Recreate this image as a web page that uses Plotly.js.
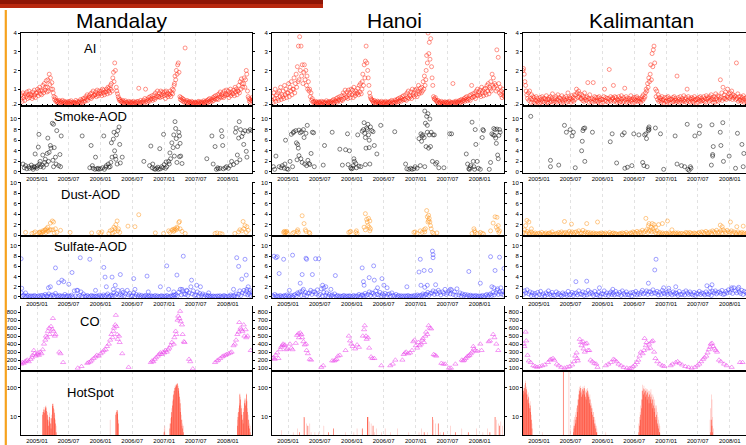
<!DOCTYPE html>
<html><head><meta charset="utf-8">
<script src="https://cdn.plot.ly/plotly-3.0.1.min.js"></script>
<style>html,body{margin:0;padding:0;background:#fff}#chart{width:746px;height:445px}</style>
</head><body><div id="chart"></div>
<script>
// ---------------- DATA ----------------
const sites = ['Mandalay','Hanoi','Kalimantan'];
const panelLabels = ['AI','Smoke-AOD','Dust-AOD','Sulfate-AOD','CO','HotSpot'];
const months = ['2004-10','2004-11','2004-12',
 '2005-01','2005-02','2005-03','2005-04','2005-05','2005-06','2005-07','2005-08','2005-09','2005-10','2005-11','2005-12',
 '2006-01','2006-02','2006-03','2006-04','2006-05','2006-06','2006-07','2006-08','2006-09','2006-10','2006-11','2006-12',
 '2007-01','2007-02','2007-03','2007-04','2007-05','2007-06','2007-07','2007-08','2007-09','2007-10','2007-11','2007-12',
 '2008-01','2008-02','2008-03','2008-04','2008-05'];
const aiDays = [1,4,8,12,16,19,23,27];
const bandDays = [3,10,17,24];

// Aerosol index, 8 readings per month
const aiMandalay = [
[0.45,0.7,0.35,0.8,0.55,0.65,0.4,0.75],[0.6,0.85,0.5,0.7,0.9,0.55,0.75,0.65],[0.7,0.5,0.85,0.6,0.95,0.7,0.55,0.8],
[0.8,1.0,0.65,0.9,1.1,0.75,0.95,0.7],[0.9,1.2,0.8,1.3,0.95,1.1,1.45,0.85],[1.1,1.5,0.9,1.8,1.25,1.6,1.0,1.35],[1.0,0.8,0.6,0.45,0.55,0.35,0.4,0.3],
[0.35,0.25,0.4,0.3,0.22,0.35,0.28,0.4],[0.3,0.22,0.35,0.25,0.3,0.2,0.32,0.26],[0.25,0.35,0.2,0.3,0.38,0.22,0.3,0.25],[0.3,0.22,0.28,0.4,0.25,0.33,0.2,0.3],
[0.35,0.25,0.45,0.3,0.4,0.28,0.5,0.35],[0.5,0.35,0.6,0.45,0.7,0.4,0.55,0.65],[0.55,0.75,0.5,0.8,0.6,0.9,0.65,0.7],[0.7,0.85,0.6,0.95,0.75,0.65,0.9,0.8],
[0.75,0.9,0.65,1.0,0.8,0.95,0.7,0.85],[0.85,1.0,0.75,1.1,0.9,1.05,0.8,1.2],[1.0,1.3,0.9,1.6,1.9,1.4,2.4,2.0],[1.1,0.9,0.75,0.6,0.5,0.4,0.45,0.35],
[0.35,0.28,0.4,0.25,0.32,0.22,0.38,0.3],[0.25,0.3,0.2,0.35,0.22,0.28,0.32,0.24],[0.3,0.22,0.35,0.25,0.2,0.3,0.27,0.33],[0.25,0.35,1.05,0.3,0.22,0.4,0.28,0.32],
[0.3,0.4,0.25,0.5,1.0,0.35,0.45,0.3],[0.4,0.55,0.35,0.6,0.45,0.5,0.65,0.4],[0.5,0.7,0.45,0.8,0.55,0.65,0.9,0.6],[0.6,0.8,0.55,0.9,0.7,0.6,0.85,0.75],
[0.65,0.85,0.5,0.9,0.7,0.8,0.6,0.75],[0.7,0.9,0.6,0.8,1.0,0.75,0.95,1.2],[1.3,1.7,1.5,2.0,1.8,2.3,2.4,1.9],[0.6,0.45,0.55,0.4,0.5,0.35,0.45,0.3],
[3.2,0.35,0.28,0.4,0.3,0.25,0.35,0.3],[0.28,0.22,0.35,0.3,0.25,0.2,0.3,0.26],[0.3,0.25,0.2,0.32,0.26,0.35,0.22,0.3],[0.25,0.32,0.22,0.3,0.38,0.26,0.3,0.35],
[0.3,0.4,0.28,0.45,0.35,0.5,0.32,0.42],[0.45,0.35,0.55,0.4,0.6,0.5,0.65,0.45],[0.5,0.7,0.45,0.75,0.6,0.85,0.55,0.7],[0.6,0.8,0.55,0.9,0.65,0.75,0.95,0.7],
[0.7,0.9,0.55,0.8,1.0,0.65,0.85,0.75],[0.75,0.95,0.65,1.1,0.85,1.0,0.7,0.9],[0.9,1.2,0.8,1.4,1.0,1.55,1.3,1.1],[1.3,1.6,1.1,1.5,2.0,1.8,0.9,0.6],
[0.5,0.35,0.45,0.3,0.4,0.55,0.35,0.45]];
const aiHanoi = [
[0.4,0.6,0.3,0.8,0.5,1.0,0.35,0.7],[0.5,0.8,0.4,0.9,0.6,1.1,0.45,0.7],[0.6,0.9,0.5,1.2,0.7,1.0,0.55,0.8],
[0.8,1.3,0.6,1.1,0.9,1.4,0.7,1.0],[1.0,1.6,0.8,1.3,1.8,1.1,2.2,1.4],[3.3,1.5,3.8,2.0,3.3,1.7,2.3,1.3],[1.9,2.3,1.5,2.0,1.2,1.7,1.0,1.4],
[0.9,1.0,0.6,0.8,0.4,0.5,0.3,0.35],[0.3,0.22,0.35,0.25,0.3,0.2,0.28,0.33],[0.25,0.3,0.22,0.35,0.2,0.28,0.32,0.24],[0.3,0.25,0.38,0.22,0.3,0.26,0.35,0.28],
[0.28,0.35,0.25,0.4,0.3,0.45,0.27,0.38],[0.35,0.5,0.3,0.55,0.4,0.45,0.6,0.35],[0.45,0.65,0.4,0.8,0.5,0.7,0.95,0.55],[0.6,0.85,0.5,0.95,0.7,0.8,0.55,1.0],
[0.7,0.95,0.55,1.1,0.8,0.65,0.9,0.75],[0.8,1.05,0.7,1.2,0.85,1.3,0.75,1.0],[1.4,1.8,1.2,2.3,1.6,2.5,3.3,2.4],[2.0,1.6,1.2,0.8,0.6,0.5,0.45,0.4],
[0.35,0.28,0.4,0.25,0.32,0.22,0.3,0.36],[0.26,0.32,0.2,0.3,0.24,0.35,0.22,0.28],[0.3,0.22,0.28,0.35,0.2,0.3,0.25,0.32],[0.25,0.3,0.35,0.22,0.4,0.28,0.33,0.25],
[0.3,0.42,0.28,0.38,0.45,0.32,0.5,0.35],[0.4,0.55,0.35,0.5,0.6,0.42,0.65,0.45],[0.45,0.7,0.4,0.8,0.55,0.9,0.5,0.65],[0.6,0.85,0.5,1.0,0.7,0.8,0.6,0.95],
[0.7,1.0,0.6,0.9,1.2,0.75,0.85,1.05],[0.8,1.1,0.9,1.4,1.0,1.7,1.2,1.5],[2.0,2.8,2.4,4.0,2.9,3.5,2.6,3.7],[2.2,1.6,1.2,0.6,0.5,0.45,0.55,0.4],
[0.35,0.3,0.4,0.25,0.32,0.28,0.22,0.35],[0.25,0.3,0.2,0.28,0.33,0.22,0.3,0.26],[0.3,0.22,0.27,0.35,0.2,0.28,0.24,0.3],[1.3,0.25,0.32,0.22,0.3,0.36,0.26,0.3],
[0.3,0.38,0.25,0.4,0.3,0.45,0.33,0.4],[0.4,0.5,0.35,0.55,0.45,0.6,0.38,0.5],[0.45,0.65,0.4,0.7,1.2,0.55,0.75,0.6],[0.6,0.8,0.5,0.9,0.7,1.0,0.65,0.85],
[0.7,0.95,0.6,1.1,0.8,0.9,0.65,1.0],[0.8,1.05,0.7,1.2,0.9,1.3,0.75,1.1],[1.0,1.4,0.9,1.8,1.2,1.6,1.1,1.3],[1.2,0.9,3.1,1.0,2.7,1.3,0.8,1.1],
[0.7,0.9,0.55,1.0,0.65,0.8,0.6,0.75]];
const aiKalimantan = [
[2.0,2.1,1.8,1.4,1.2,0.9,0.7,0.5],[0.8,0.4,0.9,0.5,0.3,0.7,0.45,0.6],[0.3,0.55,0.25,0.4,0.6,0.35,0.5,0.3],
[0.4,0.25,0.55,0.3,0.45,0.6,0.35,0.5],[0.3,0.5,0.4,0.65,0.3,0.45,0.25,0.55],[0.45,0.3,0.6,0.35,0.5,0.75,0.4,0.3],[0.5,0.35,0.6,0.3,0.45,0.7,0.4,0.55],
[0.35,0.5,0.25,0.65,0.4,0.3,0.55,0.45],[0.4,0.6,0.3,0.5,0.8,0.35,0.45,0.55],[0.5,0.3,0.65,0.4,0.55,0.35,0.7,0.45],[0.7,1.0,0.8,0.55,0.9,0.6,0.75,0.5],
[0.5,0.7,0.4,0.6,0.35,0.8,0.45,0.55],[0.4,0.6,1.35,0.5,0.3,0.7,0.45,0.35],[0.5,0.3,1.35,0.45,0.6,0.35,0.55,0.4],[0.35,0.55,0.3,0.6,0.4,0.5,0.25,0.45],
[0.45,0.3,0.6,1.0,0.4,0.55,0.35,0.5],[0.3,0.5,2.05,0.4,0.6,0.35,0.45,0.55],[0.5,1.2,0.35,0.6,0.4,0.55,0.3,0.45],[0.4,0.6,0.3,0.5,0.35,0.65,0.45,0.3],
[0.55,0.35,1.05,0.45,0.6,0.3,0.5,0.4],[0.3,0.5,0.4,0.65,0.35,0.45,0.25,0.55],[0.45,0.3,0.55,0.4,0.6,0.35,0.5,0.4],[0.35,0.5,0.3,0.45,0.6,0.4,0.7,0.5],
[0.6,0.8,1.0,0.9,1.3,1.1,1.6,1.4],[1.8,2.3,1.5,2.9,2.2,3.1,3.3,2.4],[1.0,0.6,0.9,0.45,0.7,0.35,0.55,0.4],[0.5,0.3,0.6,0.4,0.45,0.25,0.55,0.35],
[0.35,0.55,0.3,0.6,0.4,0.5,0.25,0.45],[0.45,0.3,0.55,0.35,0.6,0.4,0.5,0.3],[0.4,1.7,0.35,0.55,0.45,0.3,0.6,0.4],[0.3,0.5,0.4,0.65,0.35,0.45,0.55,0.3],
[1.0,0.4,0.6,0.35,0.5,0.3,0.45,0.55],[0.35,0.5,0.3,0.6,0.4,0.45,0.25,0.5],[0.45,0.3,0.55,0.4,0.6,0.35,0.5,0.4],[0.4,0.6,0.35,0.5,0.3,0.65,0.45,0.55],
[0.5,0.35,0.6,0.4,0.7,0.45,0.55,0.3],[0.45,0.6,0.3,0.75,0.5,0.4,0.65,0.35],[0.6,0.45,1.5,0.55,0.8,0.4,1.1,0.5],[0.7,0.5,0.85,0.45,0.6,1.0,0.55,0.75],
[0.5,0.8,0.6,0.9,0.45,0.7,0.55,0.65],[0.6,0.45,2.4,0.5,0.75,0.35,0.6,0.4],[0.45,0.6,0.35,0.55,0.4,0.65,0.3,0.5],[0.4,0.55,0.3,0.5,0.45,0.35,0.6,0.4],
[0.35,0.5,0.4,0.45,0.3,0.55,0.4,0.5]];

// Smoke AOD: [decimal year, value]
const smokeMandalay = [[2004.78,1.5],[2004.80,0.8],[2004.82,1.2],[2004.84,0.6],[2004.87,1.0],[2004.88,0.7],[2004.91,1.3],[2004.92,0.8],[2004.94,0.5],[2004.95,1.0],[2004.96,0.9],[2004.97,3.4],[2004.99,1.0],[2005.00,0.7],[2005.01,1.2],[2005.02,4.7],[2005.03,7.1],[2005.04,1.5],[2005.05,2.0],[2005.06,1.0],[2005.08,1.3],[2005.09,3.2],[2005.10,0.9],[2005.12,1.8],[2005.13,2.4],[2005.15,1.4],[2005.16,3.5],[2005.17,6.4],[2005.18,2.0],[2005.19,3.7],[2005.21,5.0],[2005.22,4.5],[2005.24,9.2],[2005.25,2.2],[2005.26,9.0],[2005.26,1.0],[2005.27,4.6],[2005.29,2.8],[2005.30,1.5],[2005.31,7.8],[2005.34,1.2],[2005.36,3.3],[2005.37,1.0],[2005.38,6.8],
[2005.71,6.8],[2005.83,0.8],[2005.85,5.0],[2005.87,1.2],[2005.88,0.7],[2005.91,0.5],[2005.92,2.8],[2005.94,0.6],[2005.96,0.7],[2005.97,0.5],[2006.00,0.6],[2006.03,0.8],[2006.05,6.8],[2006.06,0.5],[2006.08,0.9],[2006.09,1.2],[2006.12,1.5],[2006.13,0.9],[2006.15,1.0],[2006.16,1.8],[2006.17,5.5],[2006.18,2.8],[2006.20,6.2],[2006.21,7.5],[2006.22,4.0],[2006.23,3.0],[2006.24,2.4],[2006.25,7.0],[2006.26,1.5],[2006.27,7.8],[2006.29,8.5],[2006.30,5.2],[2006.31,1.7],[2006.34,2.8],
[2006.68,2.0],[2006.79,4.9],[2006.77,1.2],[2006.81,0.8],[2006.82,1.5],[2006.84,0.6],[2006.86,0.5],[2006.88,0.7],[2006.90,0.9],[2006.91,0.5],[2006.93,4.4],[2006.94,0.6],[2006.96,1.0],[2006.98,0.8],[2006.99,7.1],[2007.00,1.4],[2007.02,0.7],[2007.03,1.9],[2007.04,1.0],[2007.07,2.0],[2007.08,1.5],[2007.09,3.6],[2007.10,2.5],[2007.12,5.5],[2007.14,4.6],[2007.15,7.0],[2007.16,3.0],[2007.17,9.5],[2007.18,8.2],[2007.19,6.3],[2007.20,1.8],[2007.21,4.8],[2007.23,7.5],[2007.24,6.8],[2007.24,2.9],[2007.25,5.4],[2007.26,3.0],[2007.28,1.6],
[2007.67,2.5],[2007.75,6.8],[2007.77,1.5],[2007.80,4.8],[2007.82,0.5],[2007.84,0.8],[2007.85,0.6],[2007.88,0.7],[2007.90,7.8],[2007.91,6.7],[2007.92,5.0],[2007.93,0.6],[2007.96,0.8],[2007.98,1.0],[2008.01,0.7],[2008.04,1.2],[2008.06,2.0],[2008.09,1.4],[2008.12,7.5],[2008.13,8.3],[2008.14,1.8],[2008.15,3.2],[2008.17,6.4],[2008.18,9.5],[2008.19,2.3],[2008.20,8.0],[2008.22,6.7],[2008.24,7.3],[2008.25,5.2],[2008.27,7.8],[2008.29,3.9],[2008.30,2.8],[2008.32,7.7],[2008.35,8.0],[2008.38,7.8]];
const smokeHanoi = [[2004.77,1.0],[2004.79,0.5],[2004.81,3.0],[2004.86,1.0],[2004.89,0.8],[2004.91,1.2],[2004.94,0.7],[2004.95,1.5],[2004.96,6.0],[2004.98,0.6],[2005.00,0.5],[2005.03,2.0],[2005.05,7.1],[2005.07,1.0],[2005.08,7.4],[2005.09,7.6],[2005.12,7.8],[2005.13,5.5],[2005.14,2.3],[2005.15,5.2],[2005.16,4.5],[2005.17,7.9],[2005.17,3.1],[2005.19,7.4],[2005.20,2.5],[2005.21,7.6],[2005.22,1.8],[2005.24,8.0],[2005.25,6.5],[2005.26,1.5],[2005.28,7.3],[2005.29,1.2],[2005.30,8.8],[2005.31,2.2],[2005.33,1.6],[2005.34,1.4],[2005.36,3.5],[2005.38,7.5],[2005.40,7.4],[2005.41,1.0],
[2005.55,1.3],[2005.57,5.0],[2005.69,7.5],[2005.81,4.3],[2005.85,1.3],[2005.90,4.2],[2005.93,7.2],[2005.94,1.4],[2005.96,4.0],[2005.98,0.8],[2005.99,0.6],[2006.01,0.7],[2006.02,1.2],[2006.03,2.5],[2006.04,2.0],[2006.06,1.6],[2006.07,0.8],[2006.09,7.0],[2006.11,1.1],[2006.14,1.0],[2006.16,7.7],[2006.18,8.0],[2006.19,9.3],[2006.20,7.3],[2006.21,6.5],[2006.21,1.4],[2006.22,4.5],[2006.23,8.3],[2006.24,8.0],[2006.25,9.0],[2006.26,7.0],[2006.27,6.0],[2006.27,4.6],[2006.28,1.5],[2006.29,8.5],[2006.31,7.8],[2006.33,7.6],[2006.35,5.0],[2006.39,3.4],[2006.45,8.8],
[2006.67,7.6],[2006.84,1.5],[2006.86,0.6],[2006.89,0.5],[2006.92,0.7],[2006.94,0.5],[2006.97,0.6],[2006.99,1.0],[2007.02,0.7],[2007.05,6.3],[2007.07,1.2],[2007.08,7.2],[2007.09,5.8],[2007.10,6.8],[2007.11,7.0],[2007.13,6.5],[2007.14,1.0],[2007.14,11.5],[2007.15,9.2],[2007.16,4.8],[2007.17,10.5],[2007.18,8.8],[2007.18,7.5],[2007.19,11.0],[2007.20,4.5],[2007.21,7.0],[2007.22,10.0],[2007.23,4.8],[2007.24,7.5],[2007.26,2.0],[2007.27,7.0],[2007.29,7.0],[2007.31,1.5],[2007.33,1.8],[2007.36,0.8],[2007.44,0.8],[2007.53,7.2],[2007.56,7.2],
[2007.79,3.4],[2007.81,1.5],[2007.83,0.6],[2007.84,0.5],[2007.85,0.8],[2007.86,1.2],[2007.88,9.4],[2007.90,2.0],[2007.91,1.0],[2007.92,0.5],[2007.93,8.0],[2007.94,5.2],[2007.96,2.0],[2007.98,0.7],[2008.01,0.5],[2008.04,6.5],[2008.05,8.0],[2008.06,7.8],[2008.15,0.5],[2008.17,1.8],[2008.19,7.2],[2008.21,7.0],[2008.22,8.2],[2008.23,6.9],[2008.24,8.0],[2008.25,6.4],[2008.26,5.4],[2008.27,8.1],[2008.28,3.2],[2008.29,2.5],[2008.30,6.9],[2008.31,8.0],[2008.32,7.5]];
const smokeKalimantan = [[2004.87,10.5],[2005.18,2.2],[2005.18,1.0],[2005.31,1.3],[2005.40,8.8],[2005.43,7.5],[2005.49,8.0],[2005.52,6.8],[2005.54,7.5],[2005.57,0.8],[2005.67,4.0],[2005.68,5.8],[2005.69,7.8],[2005.70,8.2],[2005.72,8.3],[2005.72,2.0],[2005.84,7.5],[2006.12,5.7],[2006.15,7.2],[2006.22,1.7],[2006.31,7.0],[2006.34,7.4],[2006.35,0.7],[2006.39,0.9],[2006.46,1.2],[2006.49,7.2],[2006.57,7.0],[2006.63,1.8],[2006.65,1.2],[2006.66,7.0],[2006.68,7.2],[2006.69,6.3],[2006.70,1.0],[2006.72,7.8],[2006.72,8.2],[2006.73,8.5],[2006.73,8.0],[2006.83,8.3],[2006.91,7.2],[2006.96,0.5],[2007.14,6.8],[2007.17,1.5],[2007.24,1.2],[2007.29,1.0],[2007.33,9.0],[2007.34,0.5],[2007.36,0.3],[2007.38,1.0],[2007.39,0.7],[2007.45,6.8],[2007.52,7.3],[2007.53,8.7],[2007.71,1.3],[2007.72,8.9],[2007.73,3.0],[2007.73,3.3],[2007.74,4.8],[2007.85,7.5],[2007.86,5.0],[2007.89,9.3],[2007.90,2.0],[2007.99,3.0],[2008.09,0.7],[2008.12,7.3],[2008.19,5.2],[2008.21,1.0],[2008.22,3.5]];

// Dust AOD
const dustMandalay = [[2004.71,0.3],[2004.82,0.5],[2004.92,0.3],[2004.95,0.4],[2004.97,0.6],[2005.03,0.4],[2005.04,0.5],[2005.05,0.6],[2005.06,0.3],[2005.08,0.5],[2005.09,0.8],[2005.10,0.6],[2005.12,0.9],[2005.13,1.0],[2005.14,0.5],[2005.15,1.2],[2005.16,0.8],[2005.17,1.5],[2005.18,0.7],[2005.20,1.0],[2005.21,2.3],[2005.22,1.0],[2005.24,2.7],[2005.25,1.0],[2005.26,2.5],[2005.27,0.4],[2005.29,1.2],[2005.31,0.5],[2005.37,0.9],[2005.52,0.5],[2005.86,0.4],[2005.97,0.5],[2006.00,0.3],[2006.02,0.6],[2006.13,0.3],[2006.15,0.8],[2006.18,1.0],[2006.19,0.4],[2006.21,1.5],[2006.22,0.6],[2006.23,1.2],[2006.24,2.0],[2006.26,2.7],[2006.27,0.8],[2006.28,1.2],[2006.30,0.5],[2006.43,1.7],[2006.54,1.6],[2006.60,3.9],[2006.86,0.4],[2006.99,0.3],[2007.07,0.8],[2007.09,0.5],[2007.12,0.9],[2007.14,1.1],[2007.15,0.7],[2007.16,0.9],[2007.17,1.2],[2007.19,1.0],[2007.20,1.5],[2007.21,1.3],[2007.23,2.4],[2007.24,2.6],[2007.25,1.2],[2007.28,0.7],[2007.33,0.3],[2007.80,0.3],[2007.83,0.4],[2007.88,0.3],[2007.91,0.2],[2008.11,0.3],[2008.17,0.6],[2008.19,1.0],[2008.22,0.8],[2008.24,2.6],[2008.25,1.2],[2008.27,1.8],[2008.29,0.5],[2008.30,1.6],[2008.32,0.9]];
const dustHanoi = [[2004.93,0.5],[2004.94,0.7],[2004.95,0.4],[2004.96,0.6],[2004.97,0.5],[2004.98,0.7],[2004.99,0.3],[2005.07,0.3],[2005.09,0.5],[2005.14,0.7],[2005.15,1.0],[2005.16,0.5],[2005.22,3.7],[2005.25,2.2],[2005.27,1.0],[2005.28,0.7],[2005.33,0.5],[2005.34,0.3],[2005.95,0.5],[2005.97,0.6],[2005.98,0.7],[2006.06,0.5],[2006.07,0.8],[2006.08,0.3],[2006.19,1.5],[2006.21,1.0],[2006.21,4.1],[2006.23,3.0],[2006.24,2.5],[2006.25,1.8],[2006.26,3.2],[2006.27,1.5],[2006.28,0.8],[2006.28,2.7],[2006.29,1.2],[2006.97,0.5],[2006.99,0.6],[2007.02,0.3],[2007.07,0.8],[2007.10,0.5],[2007.13,1.0],[2007.14,0.6],[2007.15,1.2],[2007.17,4.7],[2007.18,3.5],[2007.19,2.5],[2007.20,3.8],[2007.20,2.8],[2007.21,3.2],[2007.22,2.5],[2007.23,1.8],[2007.24,1.2],[2007.26,0.5],[2007.28,0.3],[2007.33,0.4],[2007.88,0.3],[2007.91,1.2],[2007.92,0.8],[2007.93,0.5],[2007.96,0.3],[2008.01,0.5],[2008.04,0.3],[2008.06,0.2],[2008.17,0.8],[2008.21,2.3],[2008.24,3.5],[2008.26,1.5],[2008.27,3.4],[2008.28,1.0],[2008.29,1.8],[2008.30,0.5],[2008.31,0.8]];
const dustKalimantanBand = [
[0.5,1.0,0.3,0.7],[0.4,0.2,0.6,0.3],[0.2,0.4,0.1,0.3],
[0.3,0.1,0.5,0.2],[0.2,0.4,0.1,0.3],[0.4,0.2,0.6,0.1],[0.1,0.3,0.2,0.5],[0.3,0.6,0.2,0.4],[0.5,0.2,0.4,0.7],[0.3,0.6,0.2,0.5],[0.6,0.3,0.8,0.4],[0.4,0.9,0.3,0.6],[0.3,0.5,0.1,0.4],[0.2,0.4,0.1,0.3],[0.1,0.3,0.2,0.4],
[0.3,0.1,0.4,0.2],[0.2,0.5,0.1,0.3],[0.4,0.2,0.3,0.1],[0.1,0.3,0.2,0.4],[0.3,0.1,0.5,0.2],[0.2,0.4,0.3,0.6],[0.5,0.3,0.7,0.4],[0.6,0.4,0.9,0.5],[0.7,1.0,0.5,0.8],[0.9,0.6,1.2,0.7],[0.4,0.8,0.3,0.5],[0.2,0.4,0.1,0.3],
[0.3,0.1,0.4,0.2],[0.1,0.3,0.2,0.4],[0.2,0.4,0.1,0.3],[0.3,0.1,0.2,0.5],[0.4,0.2,0.5,0.3],[0.2,0.4,0.3,0.1],[0.3,0.5,0.2,0.6],[0.5,0.3,0.7,0.4],[0.4,0.6,0.3,0.8],[0.6,0.4,0.9,0.5],[0.5,0.8,0.4,1.0],[0.7,0.4,0.9,0.6],
[0.5,0.8,0.3,0.6],[0.4,0.2,0.6,0.3],[0.3,0.5,0.2,0.4],[0.2,0.4,0.3,0.5],[0.3,0.2,0.4,0.3]];
const dustKalimantan = [[2004.79,1.8],[2004.81,2.8],[2004.84,2.5],[2004.88,1.2],[2005.40,2.6],[2005.51,2.1],[2005.75,2.2],[2005.92,2.5],[2006.68,3.2],[2006.72,1.8],[2006.73,2.2],[2006.76,1.5],[2006.78,2.2],[2006.81,2.0],[2006.83,1.5],[2006.88,2.0],[2006.94,2.2],[2007.02,2.7],[2007.09,1.0],[2007.85,1.9],[2007.88,1.6],[2008.01,2.5],[2008.11,1.6],[2008.21,1.7]];

// Sulfate AOD: dense low band (4 per month) + higher readings
const sulfMandalayBand = [
[0.8,0.2,0.4,0.1],[0.1,0.3,0.05,0.2],[0.2,0.1,0.3,0.15],
[0.1,0.25,0.05,0.3],[0.3,0.1,0.5,0.2],[0.2,0.6,0.1,0.35],[0.4,0.15,0.7,0.25],[0.1,0.3,0.05,0.2],[0.15,0.5,0.1,0.25],[0.2,0.1,0.35,0.05],[1.2,0.2,1.3,0.1],[0.3,1.0,0.15,0.6],[0.2,0.1,0.3,0.05],[0.15,0.3,0.1,0.2],[0.1,0.2,0.05,0.35],
[0.2,0.1,0.4,0.15],[0.3,0.6,0.1,0.25],[0.4,0.2,0.8,0.3],[0.6,1.3,0.3,0.5],[0.3,0.9,0.2,0.6],[1.3,0.4,0.7,0.2],[0.25,0.8,0.1,0.5],[0.15,0.4,0.05,0.3],[0.1,0.2,0.3,0.05],[0.2,0.1,0.25,0.15],[0.1,0.3,0.05,0.2],[0.05,0.15,0.25,0.1],
[0.2,0.1,0.3,0.05],[0.1,0.25,0.15,0.4],[0.3,0.5,0.2,0.9],[1.5,0.4,1.2,0.6],[0.5,1.3,0.3,0.8],[2.0,0.6,1.2,0.3],[0.4,1.0,0.2,0.7],[0.3,0.6,0.1,0.4],[0.15,0.3,0.05,0.2],[0.1,0.2,0.05,0.15],[0.2,0.1,0.25,0.05],[0.1,0.3,0.15,0.05],
[0.2,0.1,0.4,0.15],[0.3,0.2,0.6,0.1],[0.5,1.2,0.3,0.8],[1.3,0.6,1.1,0.4],[0.7,0.3,1.0,0.5]];
const sulfHanoiBand = [
[0.3,0.1,0.5,0.2],[0.2,0.05,0.3,0.1],[0.1,0.3,0.15,0.4],
[0.2,0.1,0.35,0.05],[0.3,0.5,0.15,0.8],[0.6,1.0,0.3,1.2],[0.4,0.9,0.2,0.7],[0.8,1.3,0.5,1.0],[1.0,0.6,1.4,0.3],[0.5,1.6,0.2,0.9],[0.3,0.8,0.1,0.5],[0.2,0.4,0.1,0.6],[0.15,0.3,0.05,0.2],[0.1,0.2,0.3,0.05],[0.2,0.1,0.25,0.15],
[0.1,0.3,0.05,0.2],[0.2,0.5,0.1,0.35],[0.4,0.2,0.7,0.3],[0.5,1.0,0.3,0.8],[0.7,0.3,1.2,0.5],[0.4,0.9,0.2,0.6],[0.3,0.7,0.1,0.5],[0.6,0.2,0.8,0.3],[0.2,0.5,0.1,0.3],[0.1,0.25,0.05,0.2],[0.2,0.1,0.3,0.15],[0.1,0.2,0.05,0.3],
[0.2,0.4,0.1,0.3],[0.3,0.6,0.2,0.5],[0.5,0.9,0.3,0.7],[0.8,1.2,0.5,1.0],[0.6,1.3,0.9,0.4],[1.0,0.7,1.5,0.5],[0.8,1.2,0.6,1.4],[0.5,1.0,0.3,1.6],[0.4,0.8,0.2,0.6],[0.3,0.5,0.1,0.4],[0.2,0.35,0.1,0.25],[0.15,0.3,0.05,0.2],
[0.2,0.1,0.3,0.05],[0.3,0.5,0.15,0.4],[0.6,0.3,0.9,0.4],[0.8,1.3,0.5,1.0],[0.6,1.1,0.4,0.9]];
const sulfKalimantanBand = [
[0.5,1.2,0.8,1.4],[0.6,1.0,0.3,0.8],[0.4,0.7,0.2,0.9],
[0.5,1.1,0.3,0.6],[0.2,0.8,0.5,1.2],[0.6,0.3,0.9,0.4],[0.3,1.0,0.5,0.7],[0.4,0.2,0.8,0.5],[0.6,0.3,1.1,0.4],[0.5,0.9,0.3,0.7],[0.8,0.4,1.2,0.6],[0.5,1.0,0.3,0.8],[0.4,1.3,0.6,0.9],[0.7,0.3,1.1,0.5],[0.4,0.9,0.2,0.6],
[0.6,1.2,0.4,0.8],[0.3,0.7,1.0,0.5],[0.8,0.4,1.1,0.6],[0.5,0.9,0.3,1.2],[0.7,0.4,1.0,0.5],[0.4,0.8,0.2,0.9],[0.6,1.1,0.4,0.7],[0.5,0.9,1.3,0.6],[0.8,1.2,0.5,1.0],[1.0,0.6,1.4,0.8],[0.7,1.1,0.4,0.9],[0.5,1.3,0.8,0.6],
[0.9,0.5,1.2,0.7],[0.4,1.0,0.6,0.8],[0.7,0.3,1.1,0.5],[0.5,0.9,0.4,1.2],[0.8,0.5,1.0,0.6],[0.4,0.9,0.3,0.7],[0.6,1.1,0.5,0.8],[0.7,0.4,1.0,0.6],[0.5,0.9,0.3,1.1],[0.8,1.2,0.6,0.9],[1.0,0.7,1.3,0.5],[0.6,1.1,0.8,1.4],
[0.9,1.5,0.7,1.8],[1.2,0.8,1.6,1.0],[0.7,1.3,0.5,1.1],[0.9,0.6,1.2,0.8],[0.5,1.0,0.7,0.9]];
const sulfMandalay = [[2004.75,7.5],[2004.76,1.7],[2004.82,0.8],[2005.18,1.8],[2005.21,2.0],[2005.29,5.7],[2005.34,2.8],[2005.39,3.3],[2005.42,3.0],[2005.50,2.5],[2005.55,4.8],[2005.64,1.3],[2005.68,7.7],[2005.83,7.4],[2005.92,1.3],[2006.05,5.8],[2006.07,3.9],[2006.09,2.0],[2006.18,3.9],[2006.20,1.5],[2006.23,2.3],[2006.31,4.4],[2006.34,1.3],[2006.52,3.6],[2006.54,1.5],[2006.73,4.1],[2006.75,1.0],[2006.94,2.0],[2007.04,6.1],[2007.07,1.5],[2007.15,1.0],[2007.20,4.3],[2007.28,1.5],[2007.30,8.0],[2007.36,1.2],[2007.43,3.3],[2007.51,2.3],[2007.57,2.0],[2007.70,0.8],[2008.09,1.5],[2008.14,7.7],[2008.17,6.0],[2008.22,3.5],[2008.27,7.4],[2008.29,4.3],[2008.30,1.5],[2008.32,2.0],[2008.35,1.3]];
const sulfHanoi = [[2004.78,8.0],[2004.81,7.7],[2004.83,7.9],[2004.86,4.6],[2004.93,7.4],[2005.02,1.3],[2005.07,8.2],[2005.19,2.7],[2005.22,4.4],[2005.24,1.5],[2005.28,7.6],[2005.29,7.4],[2005.38,4.4],[2005.43,7.5],[2005.48,7.5],[2005.54,2.3],[2005.56,1.8],[2005.59,2.0],[2005.67,1.5],[2005.74,4.2],[2006.16,5.7],[2006.18,3.0],[2006.19,2.3],[2006.27,3.8],[2006.34,6.1],[2006.35,3.3],[2006.40,1.8],[2006.47,3.6],[2006.50,2.3],[2006.55,1.8],[2006.86,2.0],[2007.05,4.9],[2007.07,7.4],[2007.08,2.3],[2007.13,5.2],[2007.14,1.9],[2007.18,2.3],[2007.23,5.2],[2007.26,9.0],[2007.27,8.3],[2007.27,7.7],[2007.31,2.4],[2007.54,1.5],[2007.83,5.0],[2008.01,2.7],[2008.17,7.9],[2008.19,2.0],[2008.22,1.8],[2008.24,5.2],[2008.28,1.6],[2008.31,7.8],[2008.33,1.8],[2008.38,5.6]];
const sulfKalimantan = [[2005.58,3.0],[2005.75,3.1],[2005.95,1.8],[2006.16,1.5],[2006.72,2.7],[2006.82,5.3],[2006.84,7.4],[2006.96,1.8],[2007.04,1.7],[2007.15,2.0],[2007.64,2.2],[2007.69,1.8],[2007.72,2.4],[2008.03,1.8],[2008.14,1.9]];

// CO: [decimal year, ppbv]
const coMandalay = [[2004.75,150],[2004.77,170],[2004.79,160],[2004.81,180],[2004.83,190],[2004.85,200],[2004.87,180],[2004.90,210],[2004.92,230],[2004.93,260],[2004.95,320],[2004.96,280],[2004.98,250],[2005.00,270],[2005.02,290],[2005.03,260],[2005.05,300],[2005.07,280],[2005.09,330],[2005.11,400],[2005.13,450],[2005.14,500],[2005.16,480],[2005.17,560],[2005.19,600],[2005.20,520],[2005.22,620],[2005.24,580],[2005.25,720],[2005.26,560],[2005.28,500],[2005.29,520],[2005.35,300],[2005.37,280],[2005.41,170],
[2005.64,100],[2005.70,120],
[2005.79,160],[2005.81,170],[2005.84,180],[2005.86,200],[2005.89,220],[2005.92,240],[2005.94,260],[2005.97,250],[2006.00,280],[2006.03,300],[2006.05,320],[2006.08,330],[2006.10,370],[2006.13,400],[2006.15,450],[2006.17,520],[2006.19,480],[2006.20,560],[2006.21,600],[2006.23,640],[2006.24,760],[2006.25,620],[2006.26,520],[2006.27,460],[2006.29,500],[2006.30,420],[2006.34,280],[2006.44,110],
[2006.79,170],[2006.81,190],[2006.83,180],[2006.85,210],[2006.87,230],[2006.90,250],[2006.92,270],[2006.94,290],[2006.96,270],[2006.98,300],[2007.00,290],[2007.02,320],[2007.04,300],[2007.06,330],[2007.08,350],[2007.10,380],[2007.12,420],[2007.15,400],[2007.16,480],[2007.18,560],[2007.19,520],[2007.21,700],[2007.22,750],[2007.24,720],[2007.25,810],[2007.26,680],[2007.28,640],[2007.29,520],[2007.31,430],[2007.32,420],[2007.39,210],[2007.41,180],[2007.45,90],
[2007.80,170],[2007.83,190],[2007.85,200],[2007.88,220],[2007.91,240],[2007.93,250],[2007.96,260],[2007.98,270],[2008.01,280],[2008.04,290],[2008.06,300],[2008.09,380],[2008.11,400],[2008.13,450],[2008.15,520],[2008.17,550],[2008.18,670],[2008.20,600],[2008.21,580],[2008.23,560],[2008.25,640],[2008.26,500],[2008.28,580],[2008.29,480],[2008.31,500],[2008.36,320]];
const coHanoi = [[2004.76,220],[2004.77,230],[2004.79,210],[2004.81,260],[2004.83,290],[2004.85,220],[2004.88,330],[2004.89,360],[2004.91,380],[2004.92,400],[2004.94,380],[2004.95,390],[2004.97,330],[2004.99,340],[2005.03,400],[2005.05,350],[2005.07,330],[2005.12,410],[2005.14,510],[2005.16,530],[2005.17,480],[2005.19,540],[2005.21,520],[2005.22,480],[2005.24,430],[2005.26,390],[2005.28,400],[2005.29,320],[2005.31,280],[2005.34,210],[2005.36,200],
[2005.52,110],[2005.55,130],
[2005.69,190],[2005.72,190],[2005.74,200],[2005.76,210],[2005.78,250],[2005.81,260],[2005.90,320],[2005.95,500],[2005.97,440],[2005.99,400],[2006.01,370],[2006.05,340],[2006.08,390],[2006.11,360],[2006.17,500],[2006.19,580],[2006.20,630],[2006.22,500],[2006.23,460],[2006.25,480],[2006.27,350],[2006.30,240],[2006.32,220],[2006.35,220],[2006.46,130],
[2006.60,130],[2006.64,150],[2006.68,200],[2006.79,200],[2006.81,270],[2006.83,290],[2006.85,300],[2006.88,280],[2006.91,290],[2006.94,320],[2006.96,430],[2006.98,450],[2007.00,380],[2007.02,350],[2007.04,420],[2007.06,380],[2007.08,400],[2007.10,450],[2007.11,470],[2007.13,420],[2007.15,500],[2007.16,550],[2007.18,520],[2007.20,630],[2007.22,600],[2007.24,590],[2007.28,270],[2007.30,260],[2007.32,250],[2007.40,160],[2007.43,150],[2007.46,150],[2007.52,100],[2007.55,100],[2007.62,150],
[2007.72,200],[2007.74,190],[2007.76,200],[2007.78,220],[2007.80,240],[2007.82,250],[2007.84,260],[2007.86,280],[2007.88,300],[2007.90,370],[2007.91,340],[2007.93,320],[2007.96,310],[2008.01,400],[2008.03,320],[2008.14,430],[2008.16,440],[2008.21,520],[2008.23,480],[2008.26,400],[2008.29,320]];
const coKalimantan = [[2004.76,400],[2004.77,370],[2004.79,550],[2004.80,440],[2004.82,260],[2004.84,190],[2004.87,170],[2004.91,130],[2004.94,120],[2004.97,110],[2005.01,120],[2005.05,130],[2005.09,140],[2005.14,170],[2005.17,200],[2005.19,210],[2005.22,220],[2005.24,200],[2005.28,150],[2005.31,130],[2005.35,110],[2005.40,100],[2005.44,110],[2005.48,120],[2005.52,140],[2005.55,180],[2005.57,250],[2005.59,290],[2005.60,220],[2005.61,190],[2005.64,460],[2005.66,420],[2005.67,380],[2005.69,430],[2005.70,340],[2005.72,300],[2005.73,400],[2005.75,410],[2005.77,320],[2005.79,320],[2005.81,200],[2005.84,180],[2005.87,160],[2005.90,150],[2005.92,110],
[2006.05,130],[2006.09,150],[2006.13,170],[2006.17,210],[2006.19,200],[2006.22,180],[2006.25,150],[2006.29,130],[2006.33,110],[2006.38,100],[2006.42,95],[2006.45,100],[2006.48,120],[2006.51,140],[2006.54,170],[2006.56,200],[2006.58,250],[2006.60,300],[2006.63,280],[2006.65,320],[2006.66,470],[2006.68,380],[2006.69,420],[2006.71,340],[2006.73,400],[2006.75,350],[2006.77,430],[2006.79,440],[2006.81,300],[2006.83,220],[2006.86,180],[2006.90,150],[2006.94,130],[2006.97,120],
[2007.07,130],[2007.10,150],[2007.15,170],[2007.18,180],[2007.21,160],[2007.25,140],[2007.30,120],[2007.35,110],[2007.40,100],[2007.45,110],[2007.49,130],[2007.52,150],[2007.55,180],[2007.58,210],[2007.60,230],[2007.63,250],[2007.65,290],[2007.67,330],[2007.69,360],[2007.70,400],[2007.72,410],[2007.74,370],[2007.76,340],[2007.78,320],[2007.80,300],[2007.83,200],[2007.86,180],[2007.91,150],[2007.95,130],[2008.03,110],[2008.16,170],[2008.20,170]];

// Hot spots: [decimal year, high-confidence count, all detections]
const hsMandalay = [[2005.09,12,15],[2005.10,15,18],[2005.11,18,22],[2005.12,14,17],[2005.13,20,24],[2005.14,22,25],[2005.15,16,20],[2005.16,12,15],[2005.17,8,11],[2005.18,5,8],[2005.19,7,10],[2005.20,10,14],[2005.21,6,9],[2005.22,4,6],[2005.23,9,12],[2005.24,24,28],[2005.25,28,30],[2005.26,20,24],[2005.27,14,18],[2005.28,9,12],[2005.29,6,8],[2005.30,3,5],
[2006.15,null,8],[2006.24,12,14],[2006.25,15,17],[2006.26,17,17],[2006.27,13,15],[2006.28,6,8],
[2006.99,null,3],[2007.00,null,4],[2007.01,3,5],
[2007.09,4,6],[2007.10,6,9],[2007.11,10,14],[2007.12,15,20],[2007.13,25,35],[2007.14,40,55],[2007.15,60,80],[2007.16,80,100],[2007.17,100,120],[2007.18,110,130],[2007.19,130,140],[2007.20,120,135],[2007.21,140,150],[2007.22,100,120],[2007.23,80,95],[2007.24,50,65],[2007.25,30,40],[2007.26,15,20],[2007.27,8,12],[2007.28,5,8],[2007.29,4,6],[2007.30,3,5],
[2008.15,5,8],[2008.16,10,14],[2008.17,15,20],[2008.18,25,30],[2008.19,60,65],[2008.20,40,50],[2008.21,20,25],[2008.22,12,15],[2008.23,8,12],[2008.24,6,9],[2008.25,15,20],[2008.26,30,35],[2008.27,40,45],[2008.28,25,30],[2008.29,60,65],[2008.30,35,40],[2008.31,15,20],[2008.32,8,12],[2008.33,5,8],[2008.34,4,6],[2008.35,3,5]];
const hsHanoi = [[2004.90,null,3.5],[2005.08,null,3],[2005.15,null,4],[2005.18,3,3],[2005.25,10,10],[2005.26,null,9],[2005.29,null,6],[2005.31,5,5],[2005.34,null,6],[2005.36,null,3],[2005.42,null,3],[2005.48,null,3],[2005.56,null,5],[2005.63,3,3],[2005.71,4,4],[2005.90,null,3],[2006.03,null,3],[2006.08,null,4],[2006.16,4,4],[2006.24,10,10],[2006.25,10,10],[2006.27,null,7],[2006.30,null,6],[2006.33,5,5],[2006.35,null,3],[2006.38,null,4],[2006.46,null,3],[2006.52,null,4],[2006.60,null,3],[2006.71,null,4],[2006.89,null,3],[2007.05,null,3],[2007.09,null,4],[2007.13,3,3],[2007.18,null,3],[2007.26,10,10],[2007.28,null,8],[2007.31,null,6],[2007.35,6,6],[2007.38,null,3],[2007.43,3,3],[2007.54,null,5],[2007.62,3,3],[2007.72,null,4],[2007.82,3,3],[2007.95,null,4],[2008.05,null,3],[2008.12,null,4],[2008.16,3,3],[2008.24,10,10],[2008.26,null,8],[2008.29,null,6],[2008.31,5,5],[2008.33,null,7],[2008.36,null,5]];
const hsKalimantan = [[2004.75,60,80],[2004.76,80,100],[2004.77,100,130],[2004.78,70,90],[2004.79,150,180],[2004.80,90,110],[2004.81,60,80],[2004.82,40,60],[2004.83,50,70],[2004.84,30,45],[2004.85,20,30],[2004.86,25,35],[2004.87,15,20],[2004.88,8,12],[2004.89,4,6],
[2005.05,null,3],[2005.38,400,400],[2005.47,null,400],[2005.49,null,4],
[2005.54,3,5],[2005.55,4,8],[2005.56,5,10],[2005.57,6,12],[2005.58,8,15],[2005.59,10,20],[2005.60,15,25],[2005.61,25,40],[2005.62,40,60],[2005.63,60,90],[2005.64,80,110],[2005.65,100,120],[2005.66,70,100],[2005.67,50,80],[2005.68,60,90],[2005.69,90,110],[2005.70,80,100],[2005.71,100,120],[2005.72,60,90],[2005.73,50,80],[2005.74,40,70],[2005.75,70,90],[2005.76,80,100],[2005.77,60,80],[2005.78,50,70],[2005.79,30,50],[2005.80,40,60],[2005.81,25,40],[2005.82,20,30],[2005.83,15,25],[2005.84,12,20],[2005.85,8,15],[2005.86,10,15],[2005.87,6,10],[2005.88,5,8],[2005.89,4,6],[2005.90,3,5],[2005.91,3,4],
[2006.05,null,3],
[2006.57,3,6],[2006.58,5,10],[2006.59,8,15],[2006.60,12,25],[2006.61,20,40],[2006.62,40,80],[2006.63,80,130],[2006.64,60,100],[2006.65,90,120],[2006.66,70,90],[2006.67,50,80],[2006.68,80,100],[2006.69,60,90],[2006.70,40,70],[2006.71,70,90],[2006.72,50,80],[2006.73,30,60],[2006.74,60,80],[2006.75,40,70],[2006.76,50,90],[2006.77,30,60],[2006.78,20,40],[2006.79,40,60],[2006.80,25,50],[2006.81,15,30],[2006.82,20,40],[2006.83,10,25],[2006.84,8,20],[2006.85,12,25],[2006.86,6,15],[2006.87,5,10],[2006.88,4,8],[2006.89,3,6],[2006.90,3,5],
[2007.69,null,8],[2007.70,3,20],[2007.71,8,60],[2007.72,5,40],[2007.73,3,10],[2007.74,null,4]];

// ---------------- BUILD ----------------
const FONT = 'Liberation Sans, Arial, sans-serif';
const W = 746, H = 445;
const colPx = [[21,252],[272,504],[523,746]];
const rowPx = [[33,106],[106,173],[182,236],[236,298],[306,371],[371,435]];
const XR = [['2004-10-01','2008-05-19'],['2004-10-01','2008-05-19'],['2004-10-01','2008-04-03']];

function yd(y){const Y=Math.floor(y);const a=Date.UTC(Y,0,1),b=Date.UTC(Y+1,0,1);return new Date(a+(y-Y)*(b-a)).toISOString().slice(0,19);}
function monthly(rows, days){const x=[],y=[];rows.forEach((r,i)=>{const p=months[i].split('-').map(Number);r.forEach((v,k)=>{x.push(new Date(Date.UTC(p[0],p[1]-1,days[k])).toISOString().slice(0,10));y.push(v);});});return {x,y};}

const traces = [];
function ax(c,r){const p=c*6+r+1;return {x:p===1?'x':'x'+p,y:p===1?'y':'y'+p};}
function scat(xy, c, r, mk){const a=ax(c,r);traces.push({type:'scatter',mode:'markers',x:xy.x,y:xy.y,xaxis:a.x,yaxis:a.y,marker:mk,hoverinfo:'skip',cliponaxis:true});}
function pairs(arr){return {x:arr.map(p=>yd(p[0])),y:arr.map(p=>p[1])};}

const mkAI = {symbol:'circle-open',size:4,color:'rgba(255,45,25,0.85)',line:{width:0.6}};
const mkSm = {symbol:'circle-open',size:4,color:'rgba(20,20,20,0.9)',line:{width:0.6}};
const mkDu = {symbol:'circle-open',size:4,color:'rgba(255,150,30,0.85)',line:{width:0.6}};
const mkSu = {symbol:'circle-open',size:4,color:'rgba(60,60,255,0.8)',line:{width:0.6}};
const mkCO = {symbol:'triangle-up-open',size:4.5,color:'rgba(235,70,235,0.9)',line:{width:0.6}};

const aiAll=[aiMandalay,aiHanoi,aiKalimantan];
const smAll=[smokeMandalay,smokeHanoi,smokeKalimantan];
const duAll=[dustMandalay,dustHanoi,dustKalimantan];
const suBand=[sulfMandalayBand,sulfHanoiBand,sulfKalimantanBand];
const suAll=[sulfMandalay,sulfHanoi,sulfKalimantan];
const coAll=[coMandalay,coHanoi,coKalimantan];
const hsAll=[hsMandalay,hsHanoi,hsKalimantan];

for(let c=0;c<3;c++){
  scat(monthly(aiAll[c],aiDays),c,0,mkAI);
  scat(pairs(smAll[c]),c,1,mkSm);
  if(c===2) scat(monthly(dustKalimantanBand,bandDays),c,2,mkDu);
  scat(pairs(duAll[c]),c,2,mkDu);
  scat(monthly(suBand[c],bandDays),c,3,mkSu);
  scat(pairs(suAll[c]),c,3,mkSu);
  scat(pairs(coAll[c]),c,4,mkCO);
  const a=ax(c,5), hx=hsAll[c].map(p=>yd(p[0]));
  traces.push({type:'bar',x:hx,y:hsAll[c].map(p=>p[2]),xaxis:a.x,yaxis:a.y,width:3.0*864e5,marker:{color:'rgba(255,120,110,0.55)',line:{width:0}},hoverinfo:'skip'});
  traces.push({type:'bar',x:hx,y:hsAll[c].map(p=>p[1]),xaxis:a.x,yaxis:a.y,width:2.2*864e5,marker:{color:'rgb(255,30,0)',line:{width:0}},hoverinfo:'skip'});
}

const yCfg = [
  {range:[0.1,4.0],tickvals:[0.2,1,2,3,4],ticktext:['.2','1','2','3','4']},
  {range:[-0.19,12.45],tickvals:[0,2,4,6,8,10]},
  {range:[-0.19,10.19],tickvals:[0,2,4,6,8,10]},
  {range:[-0.2,11.96],tickvals:[0,2,4,6,8,10]},
  {range:[62.5,875],tickvals:[100,200,300,400,500,600,700,800]},
  {type:'log',range:[0.379,2.586],tickvals:[10,100],ticktext:['10','100']}
];

const layout = {width:W,height:H,margin:{l:0,r:0,t:0,b:0,pad:0},paper_bgcolor:'#fff',plot_bgcolor:'#fff',showlegend:false,barmode:'overlay',
  font:{family:FONT,size:6,color:'#000'},annotations:[],shapes:[]};

for(let c=0;c<3;c++){
  for(let r=0;r<6;r++){
    const p=c*6+r+1, a=ax(c,r);
    const xk=p===1?'xaxis':'xaxis'+p, yk=p===1?'yaxis':'yaxis'+p;
    const xa={type:'date',domain:[colPx[c][0]/W,colPx[c][1]/W],anchor:a.y,range:XR[c],
      showgrid:true,gridcolor:'#e2e2e2',griddash:'dot',gridwidth:1,dtick:'M6',tick0:'2005-01-01',tickformat:'%Y/%m',
      showticklabels:(r===1||r===3||r===5),tickfont:{size:6,family:FONT,color:'#000'},ticks:'',
      showline:true,linecolor:'#000',linewidth:1,mirror:(r===0),zeroline:false,fixedrange:true};
    if(r===0){xa.minor={dtick:'M1',ticks:'inside',ticklen:2,tickcolor:'#000',tickwidth:1,showgrid:false};}
    layout[xk]=xa;
    const yc=yCfg[r];
    layout[yk]=Object.assign({domain:[1-rowPx[r][1]/H,1-rowPx[r][0]/H],anchor:a.x,showgrid:false,zeroline:false,
      showline:true,linecolor:'#000',linewidth:1,mirror:(c<2?'ticks':false),ticks:'outside',ticklen:2,tickwidth:1,tickcolor:'#000',
      tickfont:{size:6,family:FONT,color:'#000'},fixedrange:true},yc);
  }
  [106,236,371].forEach(py=>{
    layout.shapes.push({type:'line',xref:'paper',yref:'paper',x0:colPx[c][0]/W,x1:colPx[c][1]/W,y0:1-py/H,y1:1-py/H,line:{color:'#000',width:1.8}});
  });
}

const titleX=[122,394,641];
sites.forEach((s,i)=>layout.annotations.push({text:s,xref:'paper',yref:'paper',x:titleX[i]/W,y:1-21/H,xanchor:'center',yanchor:'middle',showarrow:false,font:{family:FONT,size:21,color:'#000'}}));
const labY=[49,117,195,246,321,392];
panelLabels.forEach((t,i)=>layout.annotations.push({text:t,xref:'paper',yref:'paper',x:90/W,y:1-labY[i]/H,xanchor:'center',yanchor:'middle',showarrow:false,font:{family:FONT,size:13,color:'#000'}}));

layout.shapes.push({type:'rect',xref:'paper',yref:'paper',x0:0,x1:323/W,y0:1-4/H,y1:1,fillcolor:'#8e1606',line:{width:0},layer:'above'});
layout.shapes.push({type:'rect',xref:'paper',yref:'paper',x0:0,x1:323/W,y0:1-8/H,y1:1-4/H,fillcolor:'#b8280f',line:{width:0},layer:'above'});
layout.shapes.push({type:'line',xref:'paper',yref:'paper',x0:5.8/W,x1:5.8/W,y0:0,y1:1-10/H,line:{color:'#f6a21e',width:2.2}});

Plotly.newPlot('chart',traces,layout,{staticPlot:true,displayModeBar:false});
</script>
</body></html>
